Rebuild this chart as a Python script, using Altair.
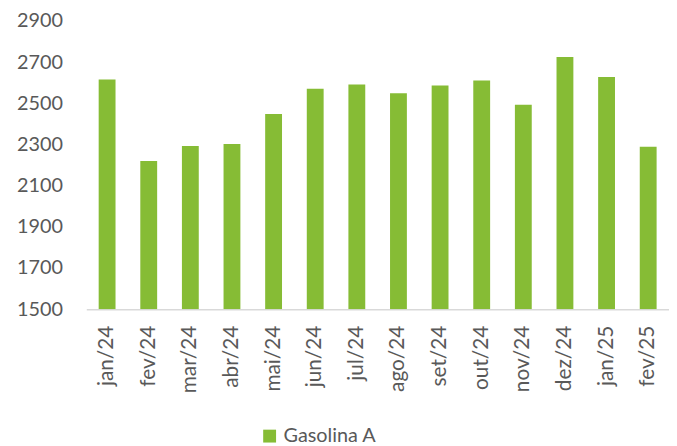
import altair as alt
import pandas as pd

months = ["jan/24", "fev/24", "mar/24", "abr/24", "mai/24", "jun/24", "jul/24",
          "ago/24", "set/24", "out/24", "nov/24", "dez/24", "jan/25", "fev/25"]
values = [2615, 2220, 2292, 2302, 2448, 2571, 2591,
          2549, 2586, 2610, 2493, 2725, 2627, 2289]
series = ["Gasolina A"] * len(months)
y_ticks = [1500, 1700, 1900, 2100, 2300, 2500, 2700, 2900]

df = pd.DataFrame({"mes": months, "valor": values, "serie": series})

FONT = "Lato"
GRAY = "#595959"

chart = alt.Chart(df).mark_bar(size=17, clip=True).encode(
    x=alt.X("mes:N", sort=months, title=None,
            scale=alt.Scale(paddingInner=0, paddingOuter=0),
            axis=alt.Axis(labelAngle=270, labelAlign="right", labelBaseline="middle",
                          labelPadding=16, ticks=False, domainColor="#D9D9D9",
                          domainWidth=1.5, labelFontSize=21, labelColor=GRAY,
                          labelFont=FONT)),
    y=alt.Y("valor:Q", title=None,
            scale=alt.Scale(domain=[1500, 2900], nice=False, zero=False),
            axis=alt.Axis(values=y_ticks, format="d",
                          grid=False, domain=False, ticks=False, labelPadding=24,
                          labelFontSize=20, labelColor=GRAY, labelFont=FONT)),
    y2=alt.datum(1500),
    color=alt.Color("serie:N", title=None,
                    scale=alt.Scale(range=["#86BC35"]),
                    legend=alt.Legend(orient="none", legendX=175, legendY=409,
                                      symbolType="square", symbolSize=169,
                                      symbolStrokeWidth=0, labelFontSize=20,
                                      labelColor=GRAY, labelFont=FONT,
                                      labelOffset=4)),
).properties(
    width=588, height=291,
    autosize=alt.AutoSizeParams(type="none"),
    padding={"left": 79, "top": 11, "right": 0, "bottom": 136},
).configure_view(stroke=None)

chart.save("out.html", embed_options={"renderer": "svg", "actions": False})
